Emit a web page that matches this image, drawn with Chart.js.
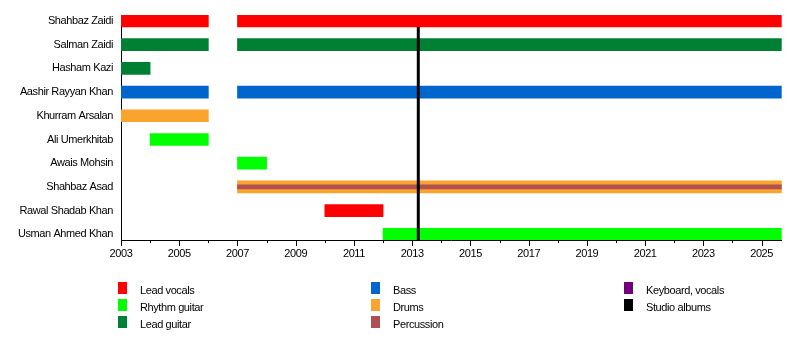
<!DOCTYPE html>
<html><head><meta charset="utf-8">
<script src="https://cdn.jsdelivr.net/npm/chart.js@4"></script>
<style>
html,body{margin:0;padding:0;background:#fff;}
#wrap{position:relative;width:800px;height:360px;overflow:hidden;}
canvas{position:absolute;left:0;top:0;}
.sw{position:absolute;width:9px;height:12px;}
.lt{position:absolute;white-space:nowrap;line-height:12px;font:11px "Liberation Sans",Arial,sans-serif;color:#000;letter-spacing:-0.4px;}
</style></head>
<body><div id="wrap"><canvas id="c" width="800" height="360"></canvas><div id="legend"></div></div>
<script>
// ---- data ----
const members = ["Shahbaz Zaidi","Salman Zaidi","Hasham Kazi","Aashir Rayyan Khan","Khurram Arsalan","Ali Umerkhitab","Awais Mohsin","Shahbaz Asad","Rawal Shadab Khan","Usman Ahmed Khan"];
const startYear = 2003;
const endDate = 2025.69;
const yearTicks = [2003,2004,2005,2006,2007,2008,2009,2010,2011,2012,2013,2014,2015,2016,2017,2018,2019,2020,2021,2022,2023,2024,2025];
const leadVocals   = [["Shahbaz Zaidi",2003,2006],["Shahbaz Zaidi",2007,endDate],["Rawal Shadab Khan",2010,2012]];
const rhythmGuitar = [["Ali Umerkhitab",2004,2006],["Awais Mohsin",2007,2008],["Usman Ahmed Khan",2012,endDate]];
const leadGuitar   = [["Salman Zaidi",2003,2006],["Salman Zaidi",2007,endDate],["Hasham Kazi",2003,2004]];
const bass         = [["Aashir Rayyan Khan",2003,2006],["Aashir Rayyan Khan",2007,endDate]];
const drums        = [["Khurram Arsalan",2003,2006],["Shahbaz Asad",2007,endDate]];
const percussion   = [["Shahbaz Asad",2007,endDate]];
const keyboardVocals = [];
const studioAlbums = [2013.21];
const roles  = ["Lead vocals","Rhythm guitar","Lead guitar","Bass","Drums","Percussion","Keyboard, vocals","Studio albums"];
const colors = ["#FF0000","#00FF00","#008033","#0066CC","#FAA32D","#B05050","#720079","#000000"];

// ---- build ----
const N = members.length;
const rowOf = n => N - 1 - members.indexOf(n);
const toBars = arr => arr.map(([n,a,b]) => ({y: rowOf(n), x: [a,b]}));
const Y_MIN = -0.24, Y_MAX = 9.25;
const roleData = [leadVocals, rhythmGuitar, leadGuitar, bass, drums, percussion, keyboardVocals];
const datasets = roleData.map((arr,i) => ({
  type: 'bar', label: roles[i], indexAxis: 'y',
  data: toBars(arr), backgroundColor: colors[i], borderWidth: 0,
  barThickness: roles[i] === "Percussion" ? 4 : 12, grouped: false,
  order: roles[i] === "Percussion" ? 1 : 5
}));
studioAlbums.forEach(x => datasets.push({
  type: 'scatter', label: roles[7], showLine: true,
  data: [{x: x, y: Y_MIN}, {x: x, y: 8.74}],
  borderColor: colors[7], borderWidth: 3, pointRadius: 0, order: 0
}));

const FONT = {family: '"Liberation Sans", Arial, sans-serif', size: 11};
const spacingPlugin = {
  id: 'spacing',
  beforeInit(chart) { chart.ctx.letterSpacing = '-0.4px'; },
  beforeUpdate(chart) { chart.ctx.letterSpacing = '-0.4px'; },
  beforeDraw(chart) { chart.ctx.letterSpacing = '-0.4px'; }
};
const tickPlugin = {
  id: 'yearTicks',
  afterDraw(chart) {
    const xs = chart.scales.x, ctx = chart.ctx;
    ctx.save(); ctx.strokeStyle = '#000'; ctx.lineWidth = 1;
    yearTicks.forEach(v => {
      const px = Math.round(xs.getPixelForValue(v)) + 0.5;
      const len = (v - startYear) % 2 === 0 ? 6 : 3;
      ctx.beginPath(); ctx.moveTo(px, xs.top); ctx.lineTo(px, xs.top + len); ctx.stroke();
    });
    ctx.restore();
  }
};

new Chart(document.getElementById('c'), {
  data: {datasets},
  options: {
    responsive: false, animation: false, devicePixelRatio: 1,
    layout: {padding: {top: 15, right: 18.3, left: 0, bottom: 0}},
    plugins: {legend: {display: false}, tooltip: {enabled: false}},
    scales: {
      x: {
        type: 'linear', position: 'bottom', min: startYear, max: endDate, offset: false,
        grid: {display: false, drawTicks: false},
        border: {display: true, color: '#000', width: 1},
        afterBuildTicks: s => { s.ticks = yearTicks.map(v => ({value: v})); },
        afterFit: s => { s.height = 120; },
        ticks: {font: FONT, color: '#000', padding: 7, autoSkip: false, maxRotation: 0,
          callback: v => ((v - startYear) % 2 === 0 ? String(v) : '')}
      },
      y: {
        type: 'linear', position: 'left', min: Y_MIN, max: Y_MAX, offset: false,
        grid: {display: false, drawTicks: false, offset: false},
        border: {display: true, color: '#000', width: 1},
        afterBuildTicks: s => { s.ticks = members.map((_, i) => ({value: i})); },
        afterFit: s => { s.width = 121; },
        ticks: {font: FONT, color: '#000', padding: 8, autoSkip: false,
          callback: v => members[N - 1 - v]}
      }
    }
  },
  plugins: [spacingPlugin, tickPlugin]
});

// ---- legend ----
const leg = document.getElementById('legend');
const colX = [118, 371, 624], textX = [140, 393, 646], rowY = [282, 299, 316];
roles.forEach((r, i) => {
  const c = Math.floor(i / 3), k = i % 3;
  const sw = document.createElement('div'); sw.className = 'sw';
  sw.style.left = colX[c] + 'px'; sw.style.top = rowY[k] + 'px'; sw.style.background = colors[i];
  const t = document.createElement('div'); t.className = 'lt';
  t.style.left = textX[c] + 'px'; t.style.top = (rowY[k] + 2) + 'px'; t.textContent = r;
  leg.appendChild(sw); leg.appendChild(t);
});
</script>
</body></html>
